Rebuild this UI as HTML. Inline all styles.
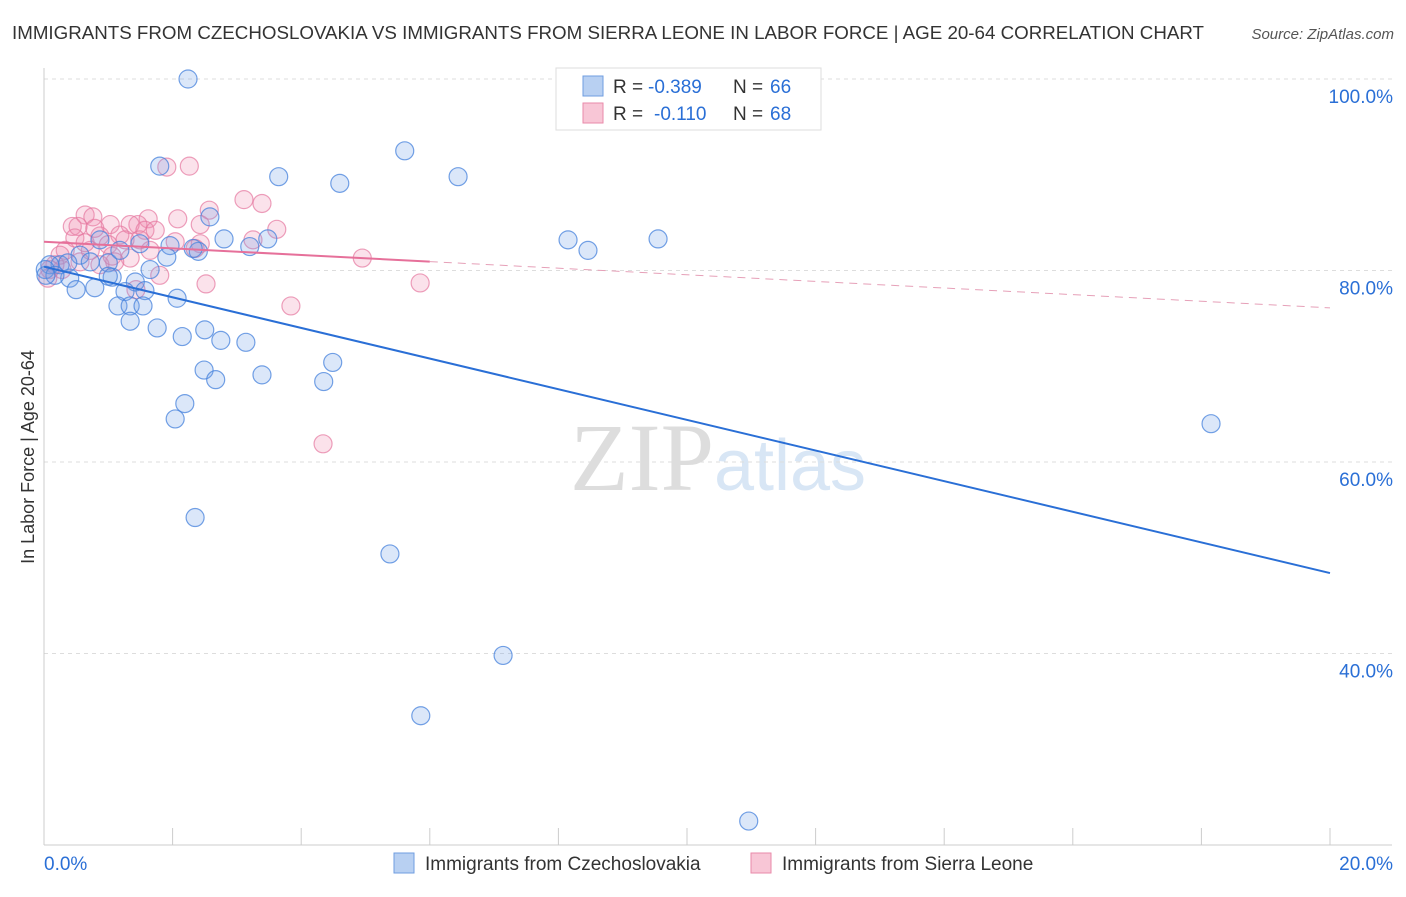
<!DOCTYPE html>
<html><head><meta charset="utf-8"><style>
body{margin:0;background:#fff;font-family:"Liberation Sans",sans-serif}
</style></head><body>
<svg id="chart" width="1406" height="892" xmlns="http://www.w3.org/2000/svg" font-family="Liberation Sans, sans-serif">
<text x="12" y="39" font-size="18.5" fill="#333" textLength="1192" lengthAdjust="spacingAndGlyphs">IMMIGRANTS FROM CZECHOSLOVAKIA VS IMMIGRANTS FROM SIERRA LEONE IN LABOR FORCE | AGE 20-64 CORRELATION CHART</text>
<text x="1394" y="39" font-size="15" fill="#555" text-anchor="end" font-style="italic">Source: ZipAtlas.com</text>
<text x="718" y="490" font-size="96" fill="#ddd" text-anchor="middle" font-family="Liberation Serif, serif">ZIP<tspan fill="#d8e6f5" font-family="Liberation Sans, sans-serif" font-size="72">atlas</tspan></text>
<g id="grid"></g><g id="axes"></g><g id="marks"></g><g id="lines"></g>
<text transform="translate(34,457) rotate(-90)" font-size="18" fill="#333" text-anchor="middle">In Labor Force | Age 20-64</text>
<g>
<rect x="556" y="68" width="265" height="62" fill="#fff" stroke="#ddd"/>
<rect x="583" y="76" width="20" height="20" fill="#b8d0f2" stroke="#6f9ee0"/>
<text x="613" y="93" font-size="19" fill="#333">R =</text>
<text x="648" y="93" font-size="19" fill="#2a6fd6">-0.389</text>
<text x="733" y="93" font-size="19" fill="#333">N =</text>
<text x="770" y="93" font-size="19" fill="#2a6fd6">66</text>
<rect x="583" y="103" width="20" height="20" fill="#f8c6d6" stroke="#e98aa9"/>
<text x="613" y="120" font-size="19" fill="#333">R =</text>
<text x="654" y="120" font-size="19" fill="#2a6fd6">-0.110</text>
<text x="733" y="120" font-size="19" fill="#333">N =</text>
<text x="770" y="120" font-size="19" fill="#2a6fd6">68</text>
</g>
<g>
<rect x="394" y="853" width="20" height="20" fill="#b8d0f2" stroke="#6f9ee0"/>
<text x="425" y="870" font-size="19" fill="#333">Immigrants from Czechoslovakia</text>
<rect x="751" y="853" width="20" height="20" fill="#f8c6d6" stroke="#e98aa9"/>
<text x="782" y="870" font-size="19" fill="#333">Immigrants from Sierra Leone</text>
</g>
</svg>
<script>
const yTicks=[100,80,60,40];
const yTickLabels=["100.0%","80.0%","60.0%","40.0%"];
const xTickVals=[0,2,4,6,8,10,12,14,16,18,20];
const xEndLabels=["0.0%","20.0%"];
const blueX=[2.24,5.61,3.65,4.60,6.44,1.80,2.58,2.80,3.48,8.15,8.46,9.55,1.96,2.40,2.32,3.20,1.49,1.91,0.87,1.00,0.56,0.25,0.09,0.02,0.40,0.50,0.79,1.06,1.42,1.65,1.26,1.57,2.07,1.15,1.34,1.54,1.34,1.76,2.15,2.50,2.75,3.14,2.49,2.67,3.39,4.35,4.49,2.19,2.04,18.15,2.35,5.38,7.14,5.86,10.96,0.37,0.72,0.17,0.03,1.18,1.0];
const blueY=[100,92.5,89.8,89.1,89.8,90.9,85.6,83.3,83.3,83.2,82.1,83.3,82.6,82.0,82.3,82.5,82.8,81.4,83.2,80.8,81.6,80.6,80.6,80.1,79.2,78.0,78.2,79.3,78.8,80.1,77.8,77.9,77.1,76.3,76.3,76.3,74.7,74.0,73.1,73.8,72.7,72.5,69.6,68.6,69.1,68.4,70.4,66.1,64.5,64.0,54.2,50.4,39.8,33.5,22.5,80.8,80.9,79.5,79.5,82.1,79.4];
const pinkX=[2.26,1.91,2.57,3.11,3.39,2.08,1.62,1.46,0.64,0.76,0.44,0.53,1.03,1.34,0.87,1.18,1.57,2.43,3.62,3.25,2.43,4.95,5.85,3.84,4.34,2.52,1.80,1.43,1.34,1.10,0.72,0.33,0.28,0.09,0.06,0.17,0.48,0.64,1.0,1.26,1.65,2.04,2.35,1.73,0.79,0.25,0.56,0.87,1.06,1.49];
const pinkY=[90.9,90.8,86.3,87.4,87.0,85.4,85.4,84.8,85.8,85.6,84.6,84.6,84.8,84.8,83.6,83.7,84.2,84.8,84.3,83.2,82.8,81.3,78.7,76.3,61.9,78.6,79.5,78.0,81.3,80.9,82.1,82.1,80.1,80.1,79.2,80.6,83.4,82.9,82.7,83.2,82.1,83.0,82.3,84.2,84.4,81.6,80.9,80.6,81.5,83.2];
const blueTrend=[80.4,48.4];
const pinkTrend=[83.0,76.1];
const pinkSolidEnd=6;
const NS="http://www.w3.org/2000/svg";
const X=v=>44+v*64.3, Y=v=>79+(100-v)*9.575;
function mk(p,t,a){const e=document.createElementNS(NS,t);for(const k in a)e.setAttribute(k,a[k]);document.getElementById(p).appendChild(e);return e;}
yTicks.forEach((t,i)=>{
 const g=mk('grid','line',{x1:44,x2:1392,y1:Y(t),y2:Y(t),stroke:'#ddd','stroke-dasharray':'4,4'});
 
 
 const l=mk('axes','text',{x:1393,y:Y(t)+24,'font-size':19,fill:'#2a6fd6','text-anchor':'end'});
 l.textContent=yTickLabels[i];
 
 
});
const ax=mk('axes','line',{x1:44,x2:1392,y1:845,y2:845,stroke:'#ccc'});


const ay=mk('axes','line',{x1:44,x2:44,y1:68,y2:845,stroke:'#ccc'});


xTickVals.forEach(t=>{
 const k=mk('axes','line',{x1:X(t),x2:X(t),y1:828,y2:845,stroke:'#ccc'});
 
 
});
[0,20].forEach((t,i)=>{
 const l=mk('axes','text',{x:i?1393:44,y:870,'font-size':19,fill:'#2a6fd6','text-anchor':i?'end':'start'});
 l.textContent=xEndLabels[i];
 
 
});
pinkX.forEach((x,i)=>{
 const c=mk('marks','circle',{cx:X(x),cy:Y(pinkY[i]),r:9,fill:'rgba(240,140,175,0.25)',stroke:'rgba(230,120,160,0.7)','stroke-width':1.2});
 
 
});
blueX.forEach((x,i)=>{
 const c=mk('marks','circle',{cx:X(x),cy:Y(blueY[i]),r:9,fill:'rgba(110,160,230,0.25)',stroke:'rgba(70,130,220,0.75)','stroke-width':1.2});
 
 
});
const bl=mk('lines','line',{x1:X(0),y1:Y(blueTrend[0]),x2:X(20),y2:Y(blueTrend[1]),stroke:'#2a6fd6','stroke-width':2});


const pm=pinkTrend[0]+(pinkTrend[1]-pinkTrend[0])*pinkSolidEnd/20;
const pl=mk('lines','line',{x1:X(0),y1:Y(pinkTrend[0]),x2:X(pinkSolidEnd),y2:Y(pm),stroke:'#e6709a','stroke-width':2});


const pd=mk('lines','line',{x1:X(pinkSolidEnd),y1:Y(pm),x2:X(20),y2:Y(pinkTrend[1]),stroke:'#e6a0b8','stroke-width':1,'stroke-dasharray':'8,6'});


</script>
</body></html>
